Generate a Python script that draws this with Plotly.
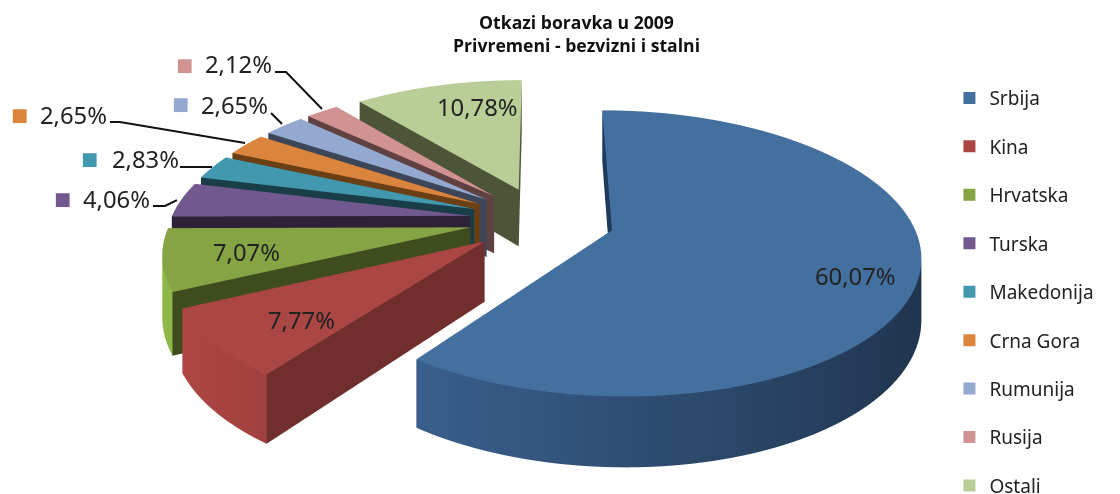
import numpy as np
import plotly.graph_objects as go

categories = ["Srbija", "Kina", "Hrvatska", "Turska", "Makedonija", "Crna Gora", "Rumunija", "Rusija", "Ostali"]
values = [60.07, 7.77, 7.07, 4.06, 2.83, 2.65, 2.65, 2.12, 10.78]
value_labels = ["60,07%", "7,77%", "7,07%", "4,06%", "2,83%", "2,65%", "2,65%", "2,12%", "10,78%"]
top_colors = ["#44709f", "#aa4643", "#85a444", "#71588f", "#4198af", "#db843d", "#93a9cf", "#d19392", "#b9cd96"]
wall_colors = ["#304f75", "#853634", "#6d8a38", "#3a2c4a", "#1f4d5a", "#7a4518", "#4a5770", "#6b4a4a", "#5c6845"]
cut_colors = ["#1f3a5c", "#702e2c", "#3f4d1e", "#2e2238", "#1a3e48", "#6b3f15", "#3d4658", "#5f4141", "#4d5539"]

PULL = 0.243
DEPTH = 0.22
WARP = 0.16
W, H = 1120, 494
ELEV = np.radians(27)
EYE = 1.5
ZOOM = 3.88


def warp(x, y, z):
    s = 1.0 / (1.0 + WARP * np.asarray(y, float))
    return np.asarray(x, float) * s, np.asarray(y, float) * s, np.asarray(z, float) * s


def shade(hex_color, f):
    r, g, b = int(hex_color[1:3], 16), int(hex_color[3:5], 16), int(hex_color[5:7], 16)
    return "#%02x%02x%02x" % tuple(int(min(255, c * f)) for c in (r, g, b))


fig = go.Figure()
LIGHT = dict(ambient=1, diffuse=0, specular=0, fresnel=0, roughness=1)
total = sum(values)
start = 0.0
for i, v in enumerate(values):
    a0 = start / total * 2 * np.pi
    a1 = (start + v) / total * 2 * np.pi
    start += v
    mid = (a0 + a1) / 2
    ox, oy = PULL * np.sin(mid), PULL * np.cos(mid)
    th = np.linspace(a0, a1, max(6, int((a1 - a0) * 40)))
    n = len(th)
    xr, yr = ox + np.sin(th), oy + np.cos(th)

    x, y, z = warp(np.r_[ox, xr], np.r_[oy, yr], np.zeros(n + 1))
    fig.add_trace(go.Mesh3d(x=x, y=y, z=z, i=np.zeros(n - 1, int), j=np.arange(1, n), k=np.arange(2, n + 1),
                            color=top_colors[i], lighting=LIGHT, flatshading=True, hoverinfo="skip", showscale=False))

    x, y, z = warp(np.r_[xr, xr], np.r_[yr, yr], np.r_[np.zeros(n), -DEPTH * np.ones(n)])
    vc = [shade(wall_colors[i], 1 - 0.35 * np.sin(t)) for t in list(th) * 2]
    I = np.r_[np.arange(n - 1), np.arange(n, 2 * n - 1)]
    J = np.r_[np.arange(1, n), np.arange(1, n)]
    K = np.r_[np.arange(n, 2 * n - 1), np.arange(n + 1, 2 * n)]
    fig.add_trace(go.Mesh3d(x=x, y=y, z=z, i=I, j=J, k=K, vertexcolor=vc, lighting=LIGHT,
                            hoverinfo="skip", showscale=False))

    for e in (0, n - 1):
        x, y, z = warp([ox, xr[e], xr[e], ox], [oy, yr[e], yr[e], oy], [0, 0, -DEPTH, -DEPTH])
        fig.add_trace(go.Mesh3d(x=x, y=y, z=z, i=[0, 0], j=[1, 2], k=[2, 3], color=cut_colors[i], lighting=LIGHT,
                                hoverinfo="skip", showscale=False))

for c, col in zip(categories, top_colors):
    fig.add_trace(go.Scatter(x=[None], y=[None], mode="markers", name=c, legendgroup=c,
                             marker=dict(symbol="square", size=11, color=col)))

label_pos = [(855, 276), (301, 320), (246, 252), (116, 199), (145, 159), (73, 115), (234, 105), (238, 64), (477, 107)]
key_pos = [None, None, None, (62, 198), (89, 158), (19, 114), (180, 103), (184, 64), None]
for i, lab in enumerate(value_labels):
    fig.add_annotation(x=label_pos[i][0] / W, y=1 - label_pos[i][1] / H, xref="paper", yref="paper", text=lab,
                       xanchor="center", yanchor="middle", showarrow=False,
                       font=dict(size=23.8, color="#222222", family="Noto Sans"))
    if key_pos[i]:
        fig.add_annotation(x=key_pos[i][0] / W, y=1 - key_pos[i][1] / H, xref="paper", yref="paper", text="■",
                           xanchor="center", yanchor="middle", showarrow=False,
                           font=dict(size=18, color=top_colors[i], family="DejaVu Sans"))

fig.add_annotation(x=577 / W, y=1 - 34 / H, xref="paper", yref="paper", showarrow=False,
                   xanchor="center", yanchor="middle",
                   text="<b>Otkazi boravka u 2009<br>Privremeni - bezvizni i stalni</b>",
                   font=dict(size=17.6, color="#111111", family="Open Sans"))

leaders = [
    [(275, 72), (286, 72), (322, 109)],
    [(271, 113), (282, 124)],
    [(110, 122), (120, 122), (245, 143)],
    [(180, 167), (212, 167)],
    [(153, 206), (165, 206), (177, 200)],
]
shapes = []
for pts in leaders:
    d = "M " + " L ".join(f"{px / W:.4f},{1 - py / H:.4f}" for px, py in pts)
    shapes.append(dict(type="path", path=d, xref="paper", yref="paper", line=dict(color="#111111", width=2), layer="above"))

fig.update_layout(
    width=W, height=H, margin=dict(l=0, r=0, t=0, b=0, autoexpand=False), paper_bgcolor="white", plot_bgcolor="white",
    xaxis=dict(visible=False), yaxis=dict(visible=False), shapes=shapes,
    scene=dict(
        domain=dict(x=[0, 1], y=[0, 1]),
        xaxis=dict(visible=False, range=[-1.54, 1.66]),
        yaxis=dict(visible=False, range=[-1.8, 1.4]),
        zaxis=dict(visible=False, range=[-1.6, 1.6]),
        aspectmode="manual", aspectratio=dict(x=ZOOM, y=ZOOM, z=ZOOM),
        camera=dict(eye=dict(x=0, y=-EYE * np.cos(ELEV), z=EYE * np.sin(ELEV)), up=dict(x=0, y=0, z=1),
                    center=dict(x=0, y=0, z=0), projection=dict(type="orthographic")),
    ),
    legend=dict(x=0.8477, y=0.84, xanchor="left", yanchor="top", tracegroupgap=20.75, bgcolor="rgba(0,0,0,0)",
                font=dict(size=19, color="#222222", family="Noto Sans"), itemsizing="constant"),
    showlegend=True,
)
fig.write_html("out.html", config=dict(displayModeBar=False),
               post_script="document.body.style.margin='0';document.body.style.overflow='hidden';")
